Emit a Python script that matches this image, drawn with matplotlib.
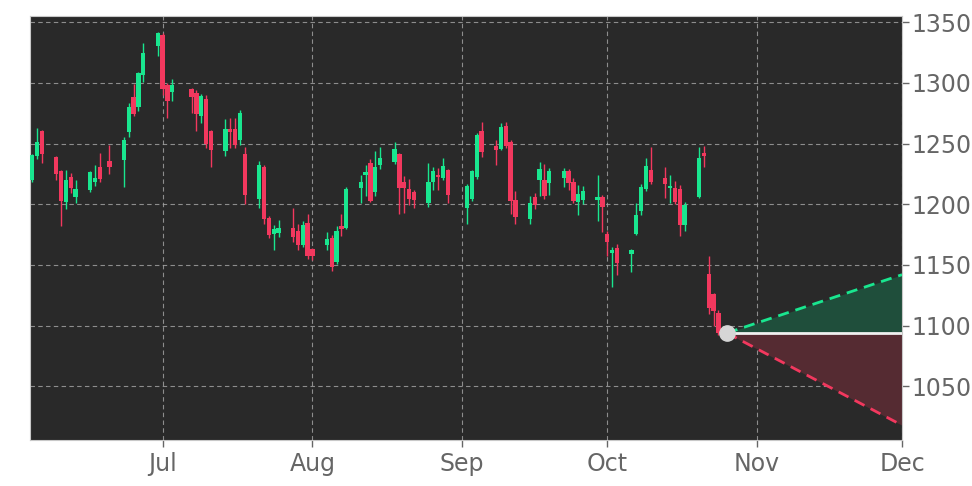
import matplotlib
matplotlib.use("Agg")
import matplotlib.pyplot as plt
import matplotlib.dates as mdates
import pandas as pd
import numpy as np

dates = ["2025-06-04","2025-06-05","2025-06-06","2025-06-09","2025-06-10","2025-06-11","2025-06-12","2025-06-13",
         "2025-06-16","2025-06-17","2025-06-18","2025-06-20","2025-06-23","2025-06-24","2025-06-25","2025-06-26",
         "2025-06-27","2025-06-30","2025-07-01","2025-07-02","2025-07-03","2025-07-07","2025-07-08","2025-07-09",
         "2025-07-10","2025-07-11","2025-07-14","2025-07-15","2025-07-16","2025-07-17","2025-07-18","2025-07-21",
         "2025-07-22","2025-07-23","2025-07-24","2025-07-25","2025-07-28","2025-07-29","2025-07-30","2025-07-31",
         "2025-08-01","2025-08-04","2025-08-05","2025-08-06","2025-08-07","2025-08-08","2025-08-11","2025-08-12",
         "2025-08-13","2025-08-14","2025-08-15","2025-08-18","2025-08-19","2025-08-20","2025-08-21","2025-08-22",
         "2025-08-25","2025-08-26","2025-08-27","2025-08-28","2025-08-29","2025-09-02","2025-09-03","2025-09-04",
         "2025-09-05","2025-09-08","2025-09-09","2025-09-10","2025-09-11","2025-09-12","2025-09-15","2025-09-16",
         "2025-09-17","2025-09-18","2025-09-19","2025-09-22","2025-09-23","2025-09-24","2025-09-25","2025-09-26",
         "2025-09-29","2025-09-30","2025-10-01","2025-10-02","2025-10-03","2025-10-06","2025-10-07","2025-10-08",
         "2025-10-09","2025-10-10","2025-10-13","2025-10-14","2025-10-15","2025-10-16","2025-10-17","2025-10-20",
         "2025-10-21","2025-10-22","2025-10-23","2025-10-24"]

open_ = [1220,1240,1260,1239,1227,1202,1222,1206,1212,1219,1230,1235,1237,1260,1288,1280,
         1307,1331,1339,1298,1293,1295,1291,1273,1286,1260,1244,1262,1262,1253,1241,1205,
         1230,1188,1176,1177,1180,1178,1167,1184,1163,1167,1172,1153,1182,1181,1214,1224,
         1234,1210,1233,1235,1241,1218,1212,1210,1201,1219,1224,1222,1228,1197,1205,1223,
         1260,1248,1246,1264,1251,1203,1188,1206,1220,1220,1218,1222,1227,1218,1202,1204,
         1204,1206,1175,1160,1164,1159,1176,1195,1213,1228,1221,1214,1213,1212,1183,1206,
         1242,1142,1126,1110]
high = [1241,1263,1261,1240,1228,1228,1226,1220,1227,1232,1242,1249,1255,1283,1299,1309,
        1333,1342,1341,1300,1303,1296,1294,1291,1290,1261,1270,1271,1271,1278,1247,1236,
        1232,1190,1183,1187,1197,1184,1186,1192,1164,1177,1175,1182,1192,1214,1224,1232,
        1237,1244,1247,1251,1242,1223,1221,1212,1234,1231,1230,1238,1229,1217,1228,1259,
        1268,1253,1267,1268,1253,1211,1207,1209,1235,1233,1230,1230,1229,1222,1216,1215,
        1224,1208,1178,1165,1167,1163,1201,1217,1238,1247,1231,1224,1219,1216,1202,1247,
        1248,1157,1127,1113]
low = [1218,1237,1234,1220,1182,1196,1209,1201,1210,1215,1218,1225,1214,1255,1273,1277,
       1301,1322,1290,1271,1285,1275,1260,1267,1246,1231,1240,1246,1246,1249,1200,1197,
       1184,1172,1162,1173,1169,1162,1165,1155,1154,1162,1145,1151,1174,1180,1201,1207,
       1202,1207,1229,1233,1192,1193,1199,1197,1198,1212,1212,1220,1201,1184,1203,1221,
       1239,1232,1245,1246,1192,1184,1184,1196,1207,1204,1208,1214,1212,1201,1191,1200,
       1186,1177,1157,1132,1142,1144,1175,1191,1211,1217,1205,1201,1200,1174,1178,1205,
       1231,1110,1100,1092]
close = [1240,1251,1242,1225,1203,1220,1214,1212,1226,1221,1221,1231,1253,1280,1275,1308,
         1324,1341,1295,1285,1298,1289,1275,1289,1250,1245,1262,1260,1249,1275,1208,1232,
         1188,1175,1179,1180,1173,1167,1183,1158,1158,1171,1149,1178,1180,1212,1218,1226,
         1203,1230,1238,1245,1214,1214,1205,1204,1218,1227,1223,1231,1208,1215,1227,1257,
         1243,1245,1263,1248,1203,1190,1201,1200,1229,1207,1227,1227,1218,1203,1208,1211,
         1206,1198,1169,1162,1152,1162,1191,1214,1231,1219,1217,1215,1202,1183,1199,1238,
         1240,1115,1112,1094]

proj_dates = ["2025-10-25 18:00", "2025-12-01 00:00"]
proj_mid = [1094, 1094]
proj_up = [1094, 1142]
proj_low = [1094, 1018]

x_ticks = ["2025-07-01", "2025-08-01", "2025-09-01", "2025-10-01", "2025-11-01", "2025-12-01"]
x_labels = ["Jul", "Aug", "Sep", "Oct", "Nov", "Dec"]
y_ticks = [1050, 1100, 1150, 1200, 1250, 1300, 1350]

GREEN = "#19e68f"
RED = "#f2385e"
BG = "#292929"
TXT = "#666666"

fig = plt.figure(figsize=(9.72, 4.86), dpi=100)
ax = fig.add_axes([0.031, 0.095, 0.897, 0.872])
ax.set_facecolor(BG)

xd = mdates.date2num(pd.to_datetime(dates))
o = np.array(open_, float); h = np.array(high, float)
l = np.array(low, float); c = np.array(close, float)
up = c >= o
cols = np.where(up, GREEN, RED)
ax.vlines(xd, l, h, colors=cols, linewidth=1.0, zorder=3)
ax.bar(xd, np.abs(c - o) + 0.6, bottom=np.minimum(o, c) - 0.3, width=0.9,
       color=cols, edgecolor=cols, linewidth=0, zorder=4)

px = mdates.date2num(pd.to_datetime(proj_dates, format="%Y-%m-%d %H:%M"))
ax.fill_between(px, proj_mid, proj_up, color="#1f4e3b", linewidth=0, zorder=2)
ax.fill_between(px, proj_mid, proj_low, color="#552b32", linewidth=0, zorder=2)
ax.plot(px, proj_mid, color="#f0f0f0", linewidth=2, zorder=5)
ax.plot(px, proj_up, color=GREEN, linewidth=2, linestyle=(0, (4, 2.5)), zorder=5)
ax.plot(px, proj_low, color=RED, linewidth=2, linestyle=(0, (4, 2.5)), zorder=5)
ax.plot(px[0], proj_mid[0], "o", markersize=11, color="#d6d6d6", zorder=6)

ax.set_xlim(mdates.date2num(pd.Timestamp("2025-06-03 14:00")), mdates.date2num(pd.Timestamp("2025-12-01")))
ax.set_ylim(1006, 1355)
ax.set_xticks(mdates.date2num(pd.to_datetime(x_ticks)))
ax.set_xticklabels(x_labels)
ax.set_yticks(y_ticks)
ax.yaxis.tick_right()
ax.tick_params(axis="both", colors=TXT, labelsize=17, length=5, width=1)
ax.tick_params(axis="y", pad=2)
ax.tick_params(axis="x", pad=4)
ax.grid(True, color="#a0a0a0", linestyle=(0, (4, 3)), linewidth=0.8, alpha=0.85)
ax.set_axisbelow(True)
for s in ax.spines.values():
    s.set_color("#c8c8c8")
    s.set_linewidth(0.8)

fig.savefig("out.png", dpi=100, facecolor="white")
